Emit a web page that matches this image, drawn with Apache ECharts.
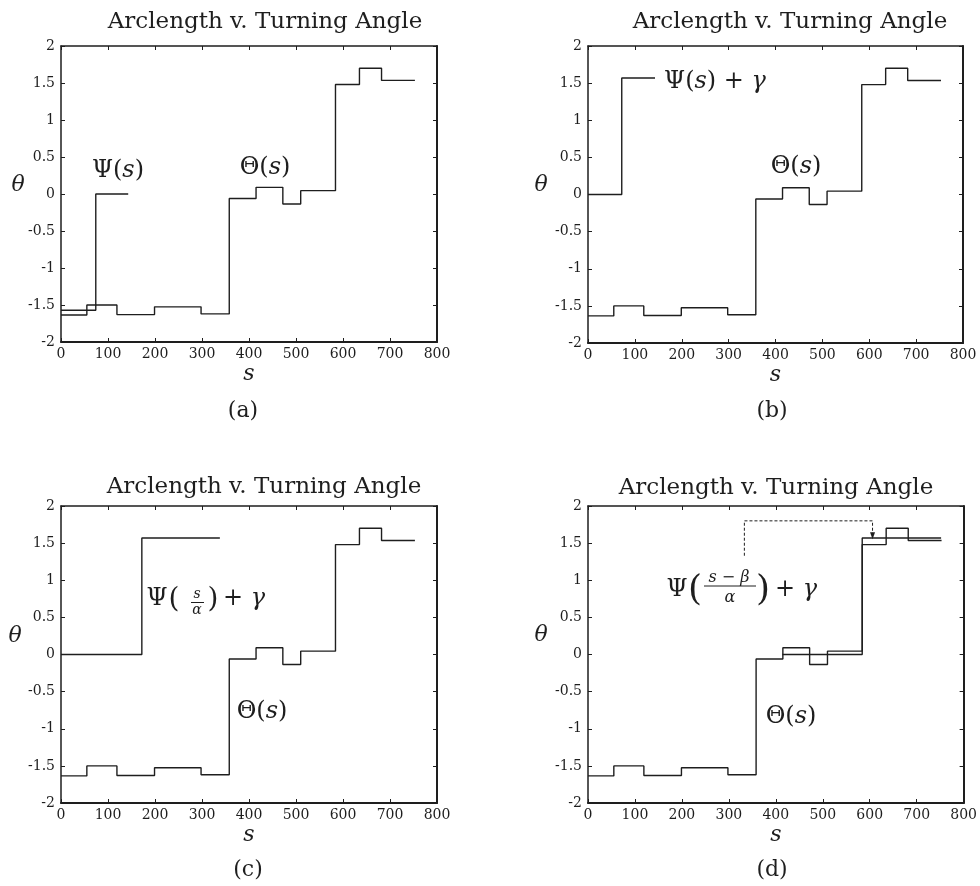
<!DOCTYPE html>
<html>
<head>
<meta charset="utf-8">
<title>Arclength v. Turning Angle</title>
<script src="https://cdn.jsdelivr.net/npm/echarts@6/dist/echarts.min.js"></script>
<style>
  html, body { margin: 0; padding: 0; background: #fff; }
  #main { width: 980px; height: 886px; }
</style>
</head>
<body>
<div id="main"></div>
<script>
// turning function of the polygon, same in all four panels
const thetaBreaks = [0, 55, 119, 199, 298, 358, 415, 472, 510, 584, 635, 682, 753];
const thetaValues = [-1.635, -1.50, -1.63, -1.525, -1.62, -0.06, 0.09, -0.135, 0.045, 1.48, 1.70, 1.535];

// Psi in its four versions
const psiBreaksA = [0, 74, 143];
const psiValuesA = [-1.57, 0];
const psiBreaksB = [0, 72, 143];
const psiValuesB = [0, 1.57];
const psiBreaksC = [0, 172, 338];
const psiValuesC = [0, 1.57];
const psiBreaksD = [414, 584, 752];
const psiValuesD = [0, 1.57];

// dashed pointer in panel (d), data units
const pointerPath = [[333, 1.33], [333, 1.80], [606, 1.80], [606, 1.60]];

const xMin = 0, xMax = 800, xStep = 100;
const yMin = -2, yMax = 2, yStep = 0.5;
const panelNames = ['(a)', '(b)', '(c)', '(d)'];
const titleText = 'Arclength v. Turning Angle';

const SERIF = 'DejaVu Serif';
const INK = '#1e1e1e';

// step points: segment i runs from breaks[i] to breaks[i+1] at values[i]
function stepData(breaks, values) {
  const pts = values.map((v, i) => [breaks[i], v]);
  pts.push([breaks[breaks.length - 1], values[values.length - 1]]);
  return pts;
}

const grids = [
  { left: 61, top: 46, width: 376, height: 296 },
  { left: 588, top: 46, width: 375, height: 297 },
  { left: 61, top: 506, width: 376, height: 297 },
  { left: 588, top: 506, width: 376, height: 297 }
];

const xAxes = [], yAxes = [];
grids.forEach((g, i) => {
  const tick = { show: true, inside: true, length: 4, lineStyle: { color: INK, width: 1 } };
  // bottom, with labels
  xAxes.push({
    gridIndex: i, type: 'value', min: xMin, max: xMax, interval: xStep, position: 'bottom',
    axisLine: { onZero: false, lineStyle: { color: INK, width: 2 } },
    axisTick: tick, splitLine: { show: false },
    axisLabel: { color: INK, fontFamily: SERIF, fontSize: 14, margin: 5 },
    name: 's', nameLocation: 'middle', nameGap: 21,
    nameTextStyle: { fontFamily: SERIF, fontStyle: 'italic', fontSize: 22, color: INK }
  });
  // top, ticks only
  xAxes.push({
    gridIndex: i, type: 'value', min: xMin, max: xMax, interval: xStep, position: 'top',
    axisLine: { onZero: false, lineStyle: { color: INK, width: 1.5 } },
    axisTick: tick, axisLabel: { show: false }, splitLine: { show: false }
  });
  yAxes.push({
    gridIndex: i, type: 'value', min: yMin, max: yMax, interval: yStep, position: 'left',
    axisLine: { onZero: false, lineStyle: { color: INK, width: 1.5 } },
    axisTick: tick, splitLine: { show: false },
    axisLabel: { color: INK, fontFamily: SERIF, fontSize: 14, margin: 6 }
  });
  yAxes.push({
    gridIndex: i, type: 'value', min: yMin, max: yMax, interval: yStep, position: 'right',
    axisLine: { onZero: false, lineStyle: { color: INK, width: 2 } },
    axisTick: tick, axisLabel: { show: false }, splitLine: { show: false }
  });
});

function stepSeries(i, breaks, values) {
  return {
    type: 'line', xAxisIndex: i * 2, yAxisIndex: i * 2, step: 'end',
    data: stepData(breaks, values), showSymbol: false, silent: true,
    lineStyle: { color: INK, width: 1.4 }
  };
}

const series = [
  stepSeries(0, thetaBreaks, thetaValues),
  stepSeries(0, psiBreaksA, psiValuesA),
  stepSeries(1, thetaBreaks, thetaValues),
  stepSeries(1, psiBreaksB, psiValuesB),
  stepSeries(2, thetaBreaks, thetaValues),
  stepSeries(2, psiBreaksC, psiValuesC),
  stepSeries(3, thetaBreaks, thetaValues),
  stepSeries(3, psiBreaksD, psiValuesD),
  {
    type: 'line', xAxisIndex: 6, yAxisIndex: 6, silent: true,
    symbol: 'none', showSymbol: true,
    data: pointerPath.map((p, k) => k === pointerPath.length - 1
      ? { value: p, symbol: 'triangle', symbolRotate: 180, symbolSize: [5, 7], itemStyle: { color: INK } }
      : { value: p }),
    lineStyle: { color: INK, width: 1, type: [3, 2] }
  }
];

// text helpers
const rich = {
  g: { fontFamily: SERIF, fontSize: 24, color: INK },
  p: { fontFamily: SERIF, fontSize: 24, color: INK },
  i: { fontFamily: SERIF, fontSize: 24, fontStyle: 'italic', color: INK }
};
function txt(x, y, text, size, extra) {
  return {
    type: 'text', x: x, y: y, silent: true,
    style: Object.assign({
      text: text, fill: INK, fontFamily: SERIF, fontSize: size,
      align: 'center', verticalAlign: 'middle', textAlign: 'center', textVerticalAlign: 'middle'
    }, extra || {})
  };
}
function richTxt(x, y, text, align) {
  return txt(x, y, text, 24, { rich: rich, align: align || 'center', textAlign: align || 'center' });
}
function hline(x1, x2, y) {
  return { type: 'line', silent: true, shape: { x1: x1, y1: y, x2: x2, y2: y }, style: { stroke: INK, lineWidth: 1 } };
}

const graphic = [
  txt(265, 22, titleText, 23),
  txt(790, 22, titleText, 23),
  txt(264, 487, titleText, 23),
  txt(776, 488, titleText, 23),
  txt(243, 411, panelNames[0], 22),
  txt(772, 411, panelNames[1], 22),
  txt(248, 870, panelNames[2], 22),
  txt(772, 870, panelNames[3], 22),
  txt(18, 185, 'θ', 22, { fontStyle: 'italic' }),
  txt(541, 185, 'θ', 22, { fontStyle: 'italic' }),
  txt(15, 636, 'θ', 22, { fontStyle: 'italic' }),
  txt(541, 635, 'θ', 22, { fontStyle: 'italic' }),
  // (a)
  richTxt(118, 171, '{g|Ψ}{p|(}{i|s}{p|)}'),
  richTxt(265, 168, '{g|Θ}{p|(}{i|s}{p|)}'),
  // (b)
  richTxt(715, 82, '{g|Ψ}{p|(}{i|s}{p|)}{p| + }{i|γ}'),
  richTxt(796, 167, '{g|Θ}{p|(}{i|s}{p|)}'),
  // (c)
  txt(157, 599, 'Ψ', 24),
  txt(174, 600, '(', 28),
  txt(197, 594, 's', 14, { fontStyle: 'italic' }),
  hline(191, 204, 602.5),
  txt(197, 610, 'α', 14, { fontStyle: 'italic' }),
  txt(213, 600, ')', 28),
  richTxt(223, 599, '{p|+ }{i|γ}', 'left'),
  richTxt(262, 712, '{g|Θ}{p|(}{i|s}{p|)}'),
  // (d)
  txt(677, 590, 'Ψ', 24),
  txt(695, 591, '(', 36),
  txt(729, 578, '{i|s}{p| − }{i|β}', 16, { rich: {
    i: { fontFamily: SERIF, fontSize: 16, fontStyle: 'italic', color: INK },
    p: { fontFamily: SERIF, fontSize: 16, color: INK } } }),
  hline(704, 756, 586),
  txt(730, 598, 'α', 16, { fontStyle: 'italic' }),
  txt(763, 591, ')', 36),
  richTxt(775, 590, '{p|+ }{i|γ}', 'left'),
  richTxt(791, 717, '{g|Θ}{p|(}{i|s}{p|)}')
];

const chart = echarts.init(document.getElementById('main'));
chart.setOption({
  animation: false,
  backgroundColor: '#ffffff',
  grid: grids,
  xAxis: xAxes,
  yAxis: yAxes,
  series: series,
  graphic: graphic
});
window.addEventListener('resize', () => chart.resize());
</script>
</body>
</html>
